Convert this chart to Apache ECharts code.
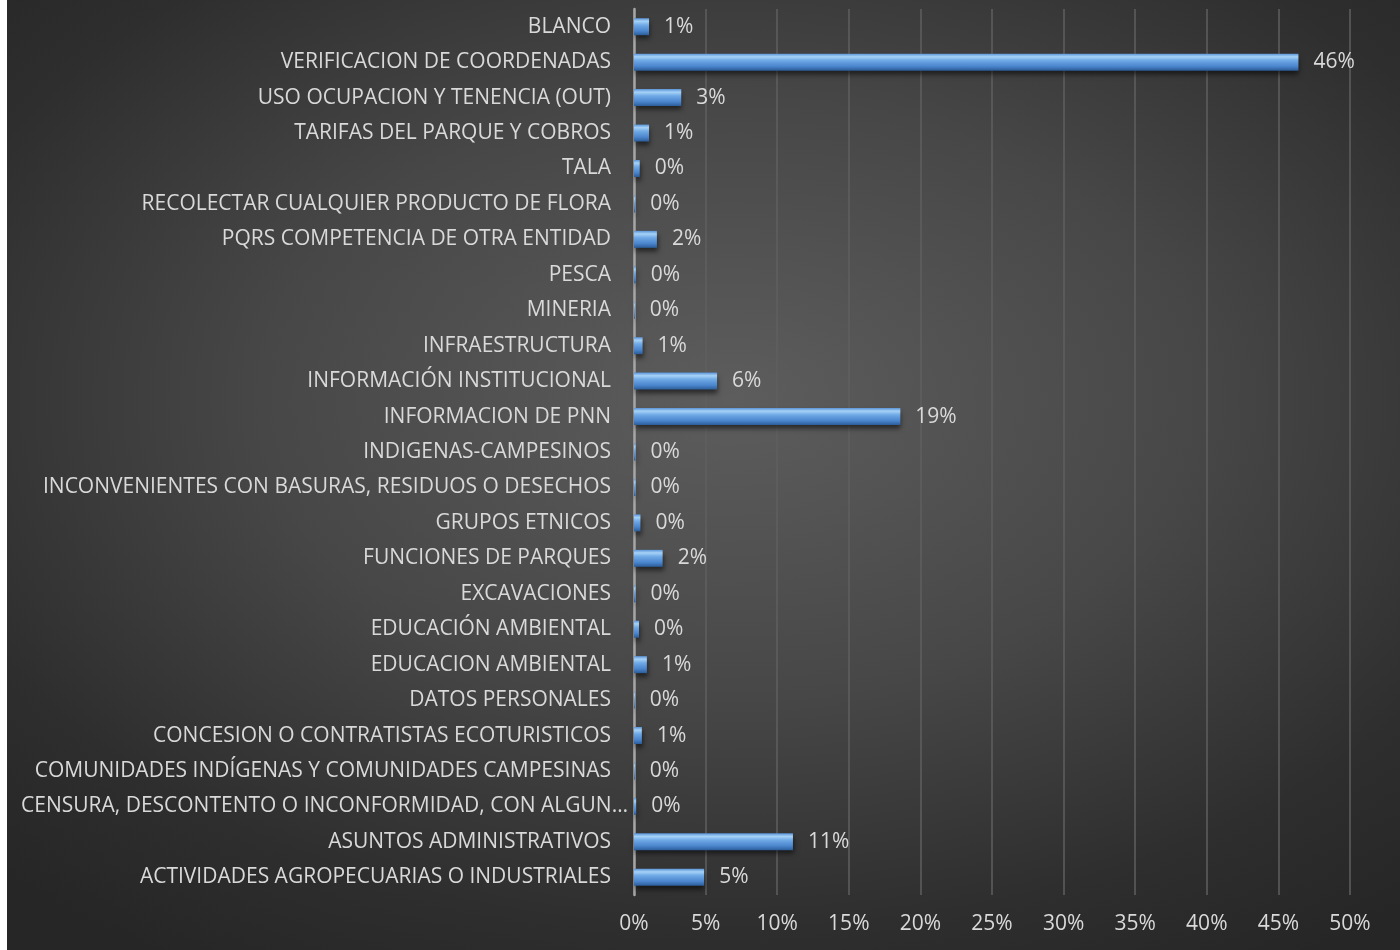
<!DOCTYPE html>
<html>
<head>
<meta charset="utf-8">
<script src="https://cdn.jsdelivr.net/npm/echarts@6/dist/echarts.min.js"></script>
<style>
  html, body { margin: 0; padding: 0; background: #fff; }
  #main {
    position: absolute; left: 7px; top: 0;
    width: 1393px; height: 950px;
    background: radial-gradient(ellipse 75% 70% at 52% 42%, #5d5d5d 0%, #474747 45%, #2e2e2e 80%, #262626 100%);
  }
</style>
</head>
<body>
<div id="main"></div>
<script>
// categorias de arriba hacia abajo
const categorias = [
  'BLANCO',
  'VERIFICACION DE COORDENADAS',
  'USO OCUPACION Y TENENCIA (OUT)',
  'TARIFAS DEL PARQUE Y COBROS',
  'TALA',
  'RECOLECTAR CUALQUIER PRODUCTO DE FLORA',
  'PQRS COMPETENCIA DE OTRA ENTIDAD',
  'PESCA',
  'MINERIA',
  'INFRAESTRUCTURA',
  'INFORMACIÓN INSTITUCIONAL',
  'INFORMACION DE PNN',
  'INDIGENAS-CAMPESINOS',
  'INCONVENIENTES CON BASURAS, RESIDUOS O DESECHOS',
  'GRUPOS ETNICOS',
  'FUNCIONES DE PARQUES',
  'EXCAVACIONES',
  'EDUCACIÓN AMBIENTAL',
  'EDUCACION AMBIENTAL',
  'DATOS PERSONALES',
  'CONCESION O CONTRATISTAS ECOTURISTICOS',
  'COMUNIDADES INDÍGENAS Y COMUNIDADES CAMPESINAS',
  'CENSURA, DESCONTENTO O INCONFORMIDAD, CON ALGUN…',
  'ASUNTOS ADMINISTRATIVOS',
  'ACTIVIDADES AGROPECUARIAS O INDUSTRIALES'
]

// porcentajes
const porcentajes = [
  1.05, 46.4, 3.3, 1.05, 0.4, 0.08, 1.6, 0.12, 0.06, 0.6,
  5.8, 18.6, 0.1, 0.1, 0.45, 2.0, 0.1, 0.35, 0.9, 0.06,
  0.55, 0.06, 0.15, 11.1, 4.9
]

const ejeX = { min: 0, max: 50, interval: 5 }

const chartDom = document.getElementById('main')
const myChart = echarts.init(chartDom)
const fuente = '"Open Sans", "Noto Sans", sans-serif'

// la etiqueta cortada queda mas pegada al eje
const etiquetasY = categorias.map((c) =>
  c.endsWith('…') ? { value: c, textStyle: { fontSize: 21, padding: [0, -17, 0, 0] } } : c
)

var option
option = {
  animation: false,
  grid: {
    top: 9,
    left: 627,
    right: 50,
    bottom: 55,
    containLabel: false,
    outerBoundsMode: 'none'
  },
  xAxis: {
    type: 'value',
    min: ejeX.min,
    max: ejeX.max,
    interval: ejeX.interval,
    axisLine: { show: false },
    axisTick: { show: false },
    axisLabel: {
      color: '#d9d9d9',
      fontSize: 21,
      fontFamily: fuente,
      margin: 19,
      formatter: (v) => v + '%'
    },
    splitLine: {
      lineStyle: { color: '#5f5f5f', width: 1.5 }
    }
  },
  yAxis: {
    type: 'category',
    inverse: true,
    data: etiquetasY,
    axisLine: {
      show: true,
      lineStyle: { color: '#a6a6a6', width: 2.5 }
    },
    axisTick: { show: false },
    axisLabel: {
      color: '#d9d9d9',
      fontSize: 21,
      fontFamily: fuente,
      margin: 23
    }
  },
  series: [
    {
      name: 'PQRS',
      type: 'bar',
      barWidth: 17,
      data: porcentajes,
      itemStyle: {
        color: new echarts.graphic.LinearGradient(0, 0, 0, 1, [
          { offset: 0, color: '#5a94d8' },
          { offset: 0.18, color: '#a6d2f7' },
          { offset: 0.4, color: '#6fa9e6' },
          { offset: 0.75, color: '#4a84cc' },
          { offset: 1, color: '#2b5c98' }
        ]),
        shadowColor: 'rgba(0,0,0,0.55)',
        shadowBlur: 5,
        shadowOffsetY: 4,
        shadowOffsetX: 1
      },
      label: {
        show: true,
        position: 'right',
        distance: 15,
        color: '#d9d9d9',
        fontSize: 21,
        fontFamily: fuente,
        formatter: (p) => Math.round(p.value) + '%'
      }
    }
  ]
}
option && myChart.setOption(option)
</script>
</body>
</html>
